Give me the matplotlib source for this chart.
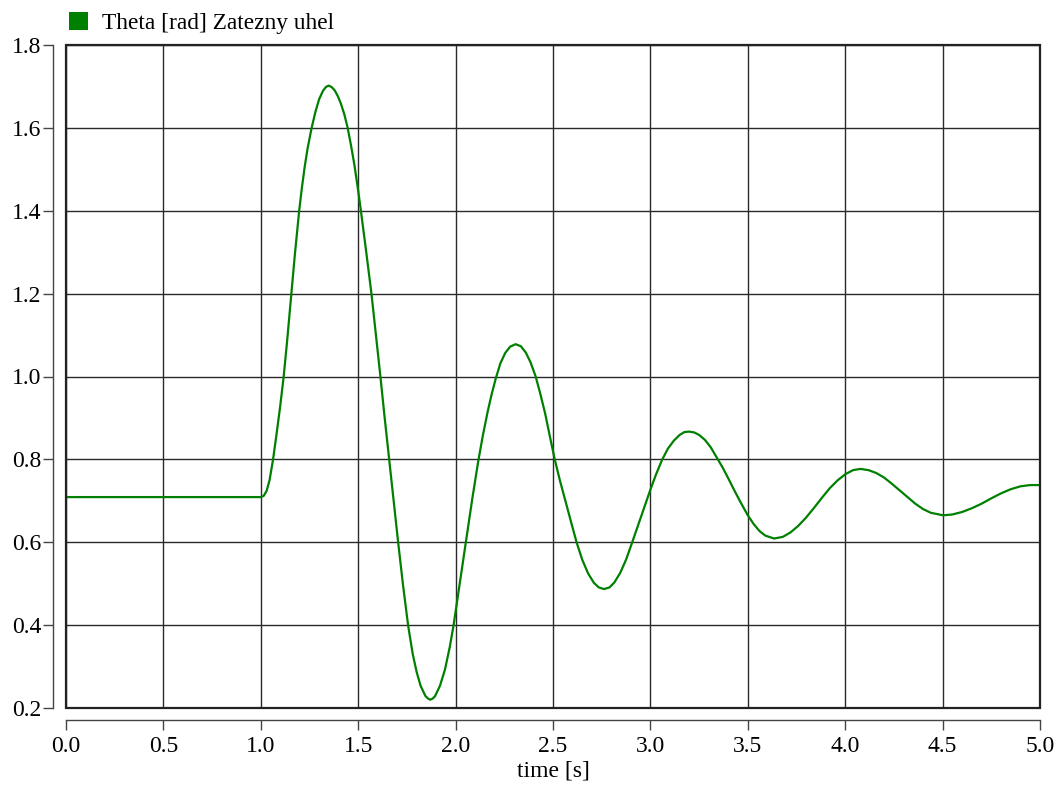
import matplotlib
matplotlib.use("Agg")
import matplotlib.pyplot as plt
from matplotlib.patches import Patch, Rectangle

plt.rcParams['font.family'] = ['Liberation Serif', 'DejaVu Serif']

# Data
time_s = [0.000, 1.000, 1.015, 1.030, 1.045, 1.063, 1.080, 1.100, 1.117, 1.135, 1.156, 1.175,
          1.197, 1.210, 1.225, 1.240, 1.260, 1.280, 1.300, 1.320, 1.335, 1.349, 1.365, 1.380,
          1.395, 1.410, 1.428, 1.445, 1.463, 1.480, 1.497, 1.513, 1.540, 1.568, 1.590, 1.614,
          1.636, 1.659, 1.682, 1.705, 1.730, 1.756, 1.780, 1.800, 1.820, 1.845, 1.858, 1.870,
          1.883, 1.895, 1.920, 1.945, 1.970, 1.989, 2.010, 2.030, 2.052, 2.085, 2.116, 2.140,
          2.165, 2.185, 2.206, 2.230, 2.255, 2.280, 2.308, 2.335, 2.360, 2.385, 2.411, 2.435,
          2.460, 2.485, 2.509, 2.535, 2.565, 2.595, 2.621, 2.650, 2.680, 2.710, 2.735, 2.762,
          2.790, 2.815, 2.845, 2.875, 2.903, 2.945, 2.975, 3.000, 3.030, 3.060, 3.090, 3.120,
          3.150, 3.175, 3.199, 3.225, 3.250, 3.280, 3.310, 3.339, 3.370, 3.400, 3.430, 3.460,
          3.500, 3.530, 3.560, 3.590, 3.635, 3.680, 3.720, 3.760, 3.800, 3.840, 3.880, 3.920,
          3.960, 4.000, 4.040, 4.078, 4.120, 4.160, 4.200, 4.240, 4.280, 4.320, 4.360, 4.400,
          4.440, 4.503, 4.550, 4.600, 4.650, 4.700, 4.750, 4.800, 4.850, 4.900, 4.950, 5.000]
theta_rad = [0.709, 0.709, 0.712, 0.724, 0.750, 0.800, 0.858, 0.930, 0.998, 1.085, 1.195, 1.295,
             1.400, 1.452, 1.505, 1.550, 1.598, 1.638, 1.670, 1.690, 1.699, 1.702, 1.698, 1.690,
             1.677, 1.660, 1.634, 1.602, 1.558, 1.512, 1.458, 1.403, 1.305, 1.200, 1.104, 1.000,
             0.900, 0.800, 0.700, 0.600, 0.497, 0.400, 0.330, 0.287, 0.254, 0.229, 0.223, 0.220,
             0.223, 0.229, 0.254, 0.292, 0.347, 0.398, 0.465, 0.528, 0.598, 0.703, 0.795, 0.858,
             0.916, 0.957, 0.995, 1.032, 1.057, 1.072, 1.078, 1.073, 1.058, 1.034, 1.000, 0.958,
             0.910, 0.853, 0.800, 0.750, 0.697, 0.645, 0.600, 0.558, 0.525, 0.502, 0.491, 0.487,
             0.491, 0.503, 0.526, 0.558, 0.595, 0.652, 0.693, 0.727, 0.765, 0.799, 0.826, 0.845,
             0.859, 0.866, 0.867, 0.865, 0.859, 0.847, 0.829, 0.806, 0.781, 0.754, 0.726, 0.699,
             0.665, 0.644, 0.627, 0.616, 0.609, 0.613, 0.624, 0.640, 0.660, 0.683, 0.707, 0.730,
             0.749, 0.764, 0.774, 0.777, 0.774, 0.767, 0.756, 0.741, 0.725, 0.709, 0.693, 0.680,
             0.671, 0.665, 0.667, 0.673, 0.682, 0.693, 0.706, 0.718, 0.728, 0.735, 0.738, 0.738]
series_label = "Theta [rad] Zatezny uhel"
x_label = "time [s]"
x_ticks = [0.0, 0.5, 1.0, 1.5, 2.0, 2.5, 3.0, 3.5, 4.0, 4.5, 5.0]
y_ticks = [0.2, 0.4, 0.6, 0.8, 1.0, 1.2, 1.4, 1.6, 1.8]

W, H = 1061, 785
fig = plt.figure(figsize=(W / 100, H / 100), dpi=100)
ax = fig.add_axes([66 / W, (H - 708) / H, (1040 - 66) / W, (708 - 45) / H])

line_color = '#008000'
ax.plot(time_s, theta_rad, color=line_color, lw=1.6, zorder=3,
        solid_joinstyle='round', solid_capstyle='round')

ax.set_xlim(0, 5)
ax.set_ylim(0.2, 1.8)
ax.set_xticks(x_ticks)
ax.set_xticklabels([f"{v:.1f}" for v in x_ticks])
ax.set_yticks(y_ticks)
ax.set_yticklabels([f"{v:.1f}" for v in y_ticks])

ax.grid(True, color='#2a2a2a', lw=1.0)
ax.set_axisbelow(True)

for s in ['top', 'right']:
    ax.spines[s].set_visible(False)
ax.spines['left'].set_position(('outward', 9.2))
ax.spines['bottom'].set_position(('outward', 8.6))
for s in ['left', 'bottom']:
    ax.spines[s].set_color('#444444')
    ax.spines[s].set_linewidth(1.0)

ax.tick_params(axis='both', colors='#444444', labelcolor='black', labelsize=17,
               width=1.0, length=7.5)
ax.tick_params(axis='y', pad=1)
ax.tick_params(axis='x', pad=4)

# plot frame
ax.add_patch(Rectangle((0, 0), 1, 1, transform=ax.transAxes, fill=False,
                       ec='#222222', lw=1.6, clip_on=False, zorder=4))

ax.set_xlabel(x_label, fontsize=17, labelpad=2.5)

handle = Patch(facecolor=line_color, edgecolor='none')
fig.legend([handle], [series_label], loc='lower left',
           bbox_to_anchor=(69 / W, (H - 34) / H), frameon=False, fontsize=16.8,
           handlelength=0.8, handleheight=0.8, handletextpad=0.6, borderpad=0,
           borderaxespad=0)

fig.savefig("out.png", dpi=100)
